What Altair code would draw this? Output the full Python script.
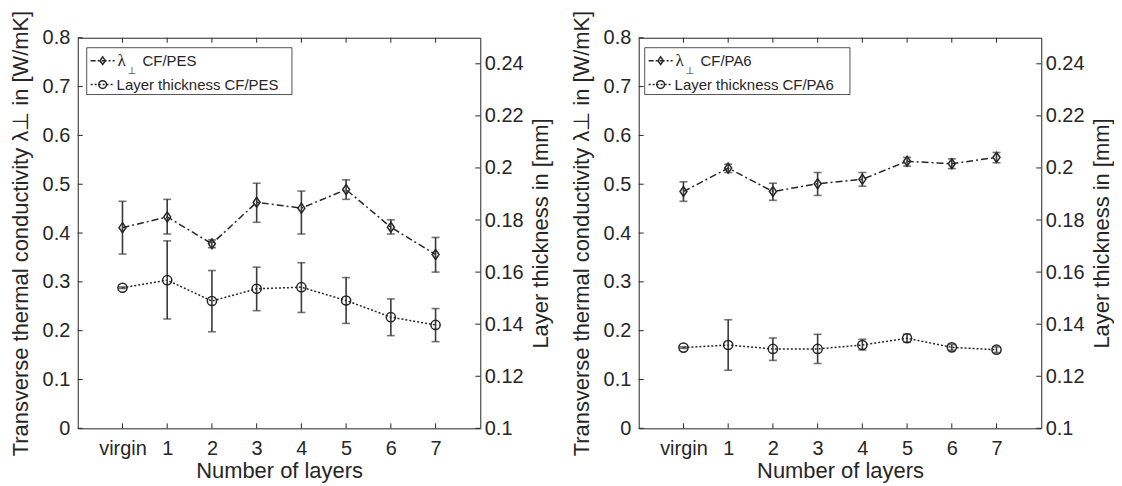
import altair as alt
import pandas as pd

categories = ["virgin", "1", "2", "3", "4", "5", "6", "7"]

# CF/PES
pes_lambda = [0.411, 0.433, 0.378, 0.463, 0.451, 0.489, 0.412, 0.356]
pes_lambda_lo = [0.357, 0.398, 0.370, 0.422, 0.398, 0.469, 0.398, 0.320]
pes_lambda_hi = [0.465, 0.469, 0.386, 0.502, 0.486, 0.509, 0.427, 0.391]
pes_thick = [0.1540, 0.1569, 0.1489, 0.1536, 0.1542, 0.1491, 0.1427, 0.1397]
pes_thick_lo = [0.1537, 0.1420, 0.1371, 0.1452, 0.1445, 0.1403, 0.1356, 0.1333]
pes_thick_hi = [0.1543, 0.1720, 0.1606, 0.1619, 0.1636, 0.1579, 0.1497, 0.1460]

# CF/PA6
pa6_lambda = [0.485, 0.533, 0.485, 0.501, 0.510, 0.547, 0.542, 0.555]
pa6_lambda_lo = [0.465, 0.524, 0.467, 0.477, 0.496, 0.537, 0.532, 0.544]
pa6_lambda_hi = [0.505, 0.541, 0.502, 0.524, 0.524, 0.555, 0.552, 0.565]
pa6_thick = [0.1310, 0.1320, 0.1305, 0.1305, 0.1320, 0.1346, 0.1311, 0.1302]
pa6_thick_lo = [0.1307, 0.1223, 0.1261, 0.1249, 0.1301, 0.1331, 0.1300, 0.1291]
pa6_thick_hi = [0.1313, 0.1417, 0.1347, 0.1361, 0.1342, 0.1362, 0.1322, 0.1313]

yticks_left = [0, 0.1, 0.2, 0.3, 0.4, 0.5, 0.6, 0.7, 0.8]
yticks_right = [0.1, 0.12, 0.14, 0.16, 0.18, 0.2, 0.22, 0.24]

left_title = "Transverse thermal conductivity λ⊥ in [W/mK]"
right_title = "Layer thickness in [mm]"
x_title = "Number of layers"

legend_pes = ["CF/PES", "Layer thickness CF/PES"]
legend_pa6 = ["CF/PA6", "Layer thickness CF/PA6"]

W, H = 404, 392
INK = "#262626"
BAR = "#3a3a3a"
FONT = "Liberation Sans"
DIAMOND = "M0,-1L0.7,0L0,1L-0.7,0Z"

X_AXIS = alt.Axis(title=x_title, tickSize=0, domain=False, grid=False,
                  labelAngle=0, labelFont=FONT, labelFontSize=20, labelColor=INK,
                  labelPadding=10, titleFont=FONT, titleFontSize=22,
                  titleFontWeight="normal", titleColor=INK, titlePadding=2)
AX_L = alt.Axis(orient="left", values=yticks_left, format="~g", tickSize=0, domain=False,
                grid=False, labelFont=FONT, labelFontSize=20, labelColor=INK, labelPadding=8,
                title=left_title, titleFont=FONT, titleFontSize=22, titleFontWeight="normal",
                titleColor=INK, titlePadding=10)
AX_R = alt.Axis(orient="right", values=yticks_right, format="~g", tickSize=0, domain=False,
                grid=False, labelFont=FONT, labelFontSize=20, labelColor=INK, labelPadding=4,
                title=right_title, titleFont=FONT, titleFontSize=22, titleFontWeight="normal",
                titleColor=INK, titlePadding=8, titleAngle=270, titleBaseline="top")
SC_L = alt.Scale(domain=[0, 0.8], nice=False, zero=False)
SC_R = alt.Scale(domain=[0.1, 0.25], nice=False, zero=False)


def xenc():
    return alt.X("cat:N", sort=categories, scale=alt.Scale(type="point", padding=1), axis=X_AXIS)


def yl(field):
    return alt.Y(field, scale=SC_L, axis=AX_L)


def yr(field):
    return alt.Y(field, scale=SC_R, axis=AX_R)


def side(df, ytick_vals, yfun, line_dash, shape, size, tick_x):
    line = alt.Chart(df).mark_line(color=INK, strokeWidth=1.5, strokeDash=line_dash).encode(
        x=xenc(), y=yfun("v:Q"))
    rule = alt.Chart(df).mark_rule(color=BAR, strokeWidth=1.6).encode(
        x=xenc(), y=yfun("lo:Q"), y2="hi:Q")
    cap1 = alt.Chart(df).mark_tick(color=BAR, size=8, thickness=1.6, orient="horizontal").encode(
        x=xenc(), y=yfun("lo:Q"))
    cap2 = alt.Chart(df).mark_tick(color=BAR, size=8, thickness=1.6, orient="horizontal").encode(
        x=xenc(), y=yfun("hi:Q"))
    pts = alt.Chart(df).mark_point(shape=shape, size=size, filled=False, color=INK,
                                   strokeWidth=1.5, opacity=1).encode(
        x=xenc(), y=yfun("v:Q"))
    ticks = alt.Chart(pd.DataFrame({"v": ytick_vals})).mark_rule(color=INK, strokeWidth=1).encode(
        y=yfun("v:Q"), x=alt.value(tick_x[0]), x2=alt.value(tick_x[1]))
    return alt.layer(line, rule, cap1, cap2, pts, ticks)


def panel(lam, lam_lo, lam_hi, thk, thk_lo, thk_hi, legend, dx):
    df_l = pd.DataFrame({"cat": categories, "v": lam, "lo": lam_lo, "hi": lam_hi})
    df_t = pd.DataFrame({"cat": categories, "v": thk, "lo": thk_lo, "hi": thk_hi})

    left = side(df_l, yticks_left, yl, [7, 3, 2, 3], DIAMOND, 100, (0, 5))
    xt = pd.DataFrame({"cat": categories})
    xb = alt.Chart(xt).mark_rule(color=INK, strokeWidth=1).encode(
        x=xenc(), y=alt.value(H), y2=alt.value(H - 5))
    xtop = alt.Chart(xt).mark_rule(color=INK, strokeWidth=1).encode(
        x=xenc(), y=alt.value(0), y2=alt.value(5))
    left = alt.layer(left, xb, xtop)
    right = side(df_t, yticks_right, yr, [2, 2], "circle", 85, (W, W - 5))

    box = alt.Chart().mark_rect(fill="white", stroke=INK, strokeWidth=0.8).encode(
        x=alt.value(9 + dx), x2=alt.value(215 + dx), y=alt.value(10), y2=alt.value(57))
    lg1 = alt.Chart().mark_rule(color=INK, strokeWidth=1.5, strokeDash=[5, 2, 2, 2]).encode(
        x=alt.value(13 + dx), x2=alt.value(37 + dx), y=alt.value(23))
    lg1m = alt.Chart().mark_point(shape=DIAMOND, size=60, filled=False, color=INK, strokeWidth=1.5,
                                  opacity=1).encode(x=alt.value(25 + dx), y=alt.value(23))
    lg2 = alt.Chart().mark_rule(color=INK, strokeWidth=1.5, strokeDash=[2, 2]).encode(
        x=alt.value(13 + dx), x2=alt.value(37 + dx), y=alt.value(47))
    lg2m = alt.Chart().mark_point(shape="circle", size=60, filled=False, color=INK, strokeWidth=1.5,
                                  opacity=1).encode(x=alt.value(25 + dx), y=alt.value(47))
    t_lam = alt.Chart().mark_text(font="Liberation Serif", fontSize=17, color=INK, align="left",
                                  baseline="middle").encode(
        x=alt.value(40 + dx), y=alt.value(23), text=alt.value("λ"))
    t_perp = alt.Chart().mark_text(font="DejaVu Sans", fontSize=10, color=INK, align="left",
                                   baseline="middle").encode(
        x=alt.value(50 + dx), y=alt.value(33), text=alt.value("⊥"))
    t1 = alt.Chart().mark_text(font=FONT, fontSize=15, color=INK, align="left",
                               baseline="middle").encode(
        x=alt.value(65 + dx), y=alt.value(23), text=alt.value(legend[0]))
    t2 = alt.Chart().mark_text(font=FONT, fontSize=15, color=INK, align="left",
                               baseline="middle").encode(
        x=alt.value(39 + dx), y=alt.value(47), text=alt.value(legend[1]))

    data_layers = alt.layer(left, right).resolve_scale(y="independent")
    return alt.layer(data_layers, box, lg1, lg1m, lg2, lg2m, t_lam, t_perp, t1, t2).properties(
        width=W, height=H)


p1 = panel(pes_lambda, pes_lambda_lo, pes_lambda_hi, pes_thick, pes_thick_lo, pes_thick_hi, legend_pes, 0)
p2 = panel(pa6_lambda, pa6_lambda_lo, pa6_lambda_hi, pa6_thick, pa6_thick_lo, pa6_thick_hi, legend_pa6, -3)

chart = alt.hconcat(p1, p2, spacing=16).properties(
    padding={"left": 0, "top": 0, "right": 0, "bottom": 0}, background="white"
).configure_view(stroke=INK, strokeWidth=1)

chart.save("out.html", embed_options={"renderer": "svg", "actions": False})
